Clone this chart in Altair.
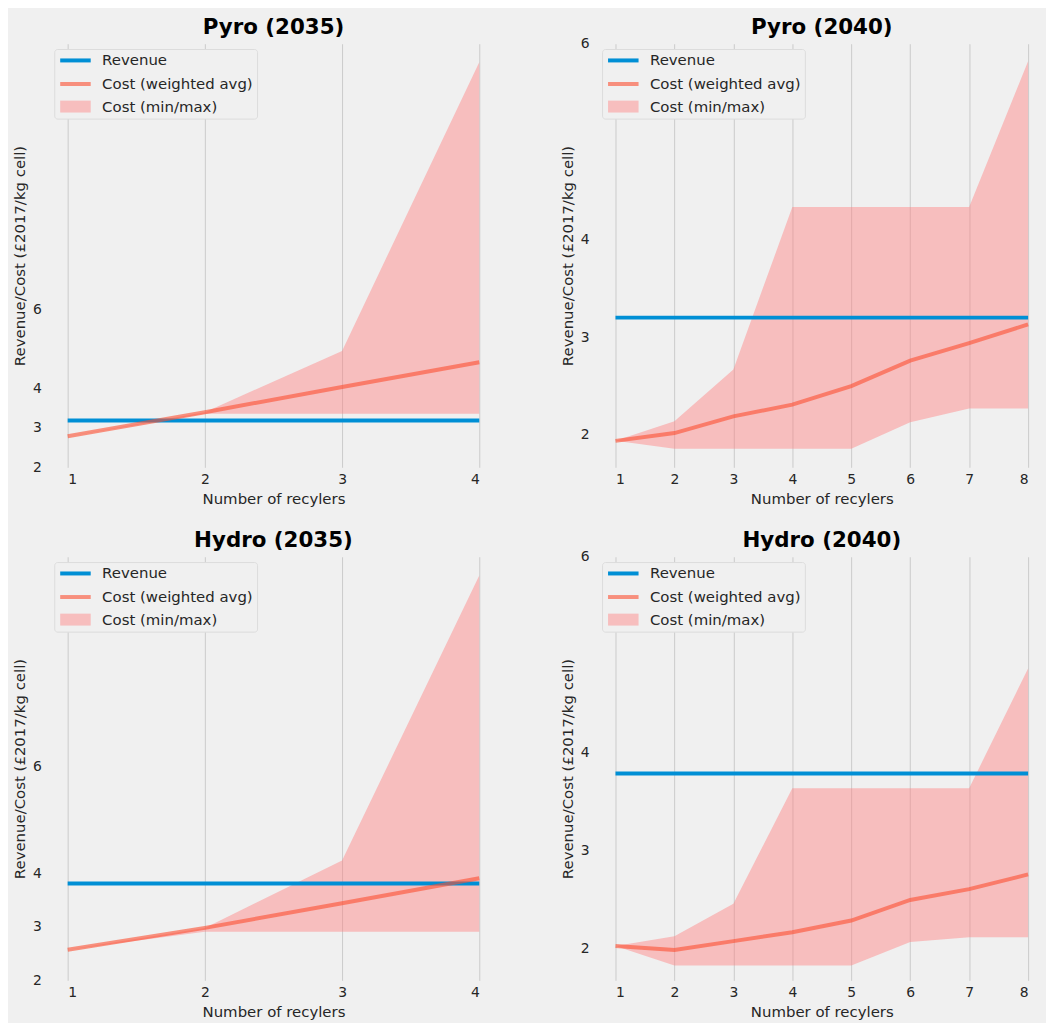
import altair as alt
import pandas as pd

FONT = "DejaVu Sans"
SERIES = ["Revenue", "Cost (weighted avg)", "Cost (min/max)"]
Y_TICKS = [2, 3, 4, 6]
X_TITLE = "Number of recylers"
Y_TITLE = "Revenue/Cost (£2017/kg cell)"

# ---- Pyro (2035) ----
pyro35_x = [1, 2, 3, 4]
pyro35_revenue = [3.19, 3.19, 3.19, 3.19]
pyro35_cost = [2.79, 3.40, 4.04, 4.67]
pyro35_min = [2.79, 3.36, 3.36, 3.36]
pyro35_max = [2.79, 3.40, 4.96, 12.30]

# ---- Pyro (2040) ----
pyro40_x = [1, 2, 3, 4, 5, 6, 7, 8]
pyro40_revenue = [3.20, 3.20, 3.20, 3.20, 3.20, 3.20, 3.20, 3.20]
pyro40_cost = [1.94, 2.02, 2.19, 2.31, 2.50, 2.76, 2.94, 3.13]
pyro40_min = [1.94, 1.86, 1.86, 1.86, 1.86, 2.13, 2.27, 2.27]
pyro40_max = [1.94, 2.14, 2.67, 4.33, 4.33, 4.33, 4.33, 5.82]

# ---- Hydro (2035) ----
hydro35_x = [1, 2, 3, 4]
hydro35_revenue = [3.81, 3.81, 3.81, 3.81]
hydro35_cost = [2.57, 2.98, 3.44, 3.91]
hydro35_min = [2.57, 2.91, 2.91, 2.91]
hydro35_max = [2.57, 2.98, 4.24, 9.57]

# ---- Hydro (2040) ----
hydro40_x = [1, 2, 3, 4, 5, 6, 7, 8]
hydro40_revenue = [3.79, 3.79, 3.79, 3.79, 3.79, 3.79, 3.79, 3.79]
hydro40_cost = [2.03, 1.99, 2.08, 2.17, 2.29, 2.50, 2.61, 2.76]
hydro40_min = [2.03, 1.83, 1.83, 1.83, 1.83, 2.07, 2.12, 2.12]
hydro40_max = [2.03, 2.13, 2.46, 3.64, 3.64, 3.64, 3.64, 4.86]

BLUE = "#008fd5"
COST = "#fc4f30"
FILL = "#ff8080"

RECT = "M-2.79,-1.09H2.79V1.09H-2.79Z"
LINE = "M-2.79,0H2.79"


def make_legend(lx, ly):
    return alt.Legend(
        orient="none", legendX=lx, legendY=ly, title=None,
        padding=4, rowPadding=6.7, symbolOffset=9.85, labelOffset=19.3,
        labelFont=FONT, labelFontSize=15, labelColor="#262626", labelLimit=300,
        fillColor="#f0f0f0", strokeColor="#dcdcdc", cornerRadius=3,
        symbolSize=121, symbolStrokeWidth=4, symbolOpacity=1,
        symbolType={"expr": f"datum.value === 'Cost (min/max)' ? '{RECT}' : '{LINE}'"},
        symbolStrokeColor={"expr": "datum.value === 'Revenue' ? '#008fd5' : "
                                   "(datum.value === 'Cost (weighted avg)' ? '#f78f7d' : null)"},
    )


def panel(title, xs, rev, cost, lo, hi, ydom, width, height, title_dy):
    df = pd.DataFrame({"x": xs, "rev": rev, "cost": cost, "lo": lo, "hi": hi})
    xscale = alt.Scale(domain=[xs[0], xs[-1]], nice=False, zero=False)
    xaxis = alt.Axis(values=xs, title=X_TITLE, grid=True, gridColor="#cbcbcb", gridWidth=1,
                     domain=False, ticks=False, labelFont=FONT, labelFontSize=14,
                     labelColor="#262626", labelPadding=5, titleFont=FONT, titleFontSize=15,
                     titleFontWeight="normal", titleColor="#262626", titleY=36.5,
                     titleBaseline="alphabetic", format="d")
    yscale = alt.Scale(domain=ydom, nice=False, zero=False)
    yaxis = alt.Axis(values=Y_TICKS, title=Y_TITLE, grid=False, domain=False, ticks=False,
                     labelFont=FONT, labelFontSize=14, labelColor="#262626", labelPadding=26.5,
                     titleFont=FONT, titleFontSize=15, titleFontWeight="normal",
                     titleColor="#262626", titleX=-48.5, titleBaseline="middle")
    X = alt.X("x:Q", scale=xscale, axis=xaxis)
    base = alt.Chart(df)
    area = base.mark_area(color=FILL, opacity=0.45).encode(
        x=X, y=alt.Y("lo:Q", scale=yscale, axis=yaxis), y2="hi:Q")
    rline = base.mark_line(color=BLUE, strokeWidth=4).encode(
        x=X, y=alt.Y("rev:Q", scale=yscale, axis=yaxis))
    cline = base.mark_line(color=COST, strokeWidth=4, opacity=0.6).encode(
        x=X, y=alt.Y("cost:Q", scale=yscale, axis=yaxis))
    leg = alt.Chart(pd.DataFrame({"series": SERIES})).mark_point(
        filled=True, opacity=0, strokeWidth=4).encode(
        color=alt.Color("series:N",
                        scale=alt.Scale(domain=SERIES, range=[BLUE, "#f78f7d", "#f7bebe"]),
                        legend=make_legend(-13.5, 5.3)))
    return alt.layer(area, rline, cline, leg).properties(
        width=width, height=height,
        title=alt.TitleParams(title, font=FONT, fontSize=21.5, fontWeight="bold", color="#000000",
                              anchor="middle", offset=5, dy=title_dy),
    )


p1 = panel("Pyro (2035)", pyro35_x, pyro35_revenue, pyro35_cost, pyro35_min, pyro35_max,
           [2, 12.77], 414, 426, 0)
p2 = panel("Pyro (2040)", pyro40_x, pyro40_revenue, pyro40_cost, pyro40_min, pyro40_max,
           [1.67, 6.0], 415, 426, 7)
p3 = panel("Hydro (2035)", hydro35_x, hydro35_revenue, hydro35_cost, hydro35_min, hydro35_max,
           [2, 9.92], 414, 426, 0)
p4 = panel("Hydro (2040)", hydro40_x, hydro40_revenue, hydro40_cost, hydro40_min, hydro40_max,
           [1.68, 6.0], 415, 426, 7)

chart = alt.concat(p1, p2, p3, p4, columns=2, spacing={"row": 90, "column": 137},
                   bounds="flush").resolve_scale(color="independent").configure(
    background="#f0f0f0", padding={"left": 4, "top": 6, "right": 10, "bottom": 2}, font=FONT
).configure_view(stroke=None)

chart.save("out.html", embed_options={"renderer": "svg", "actions": False})
